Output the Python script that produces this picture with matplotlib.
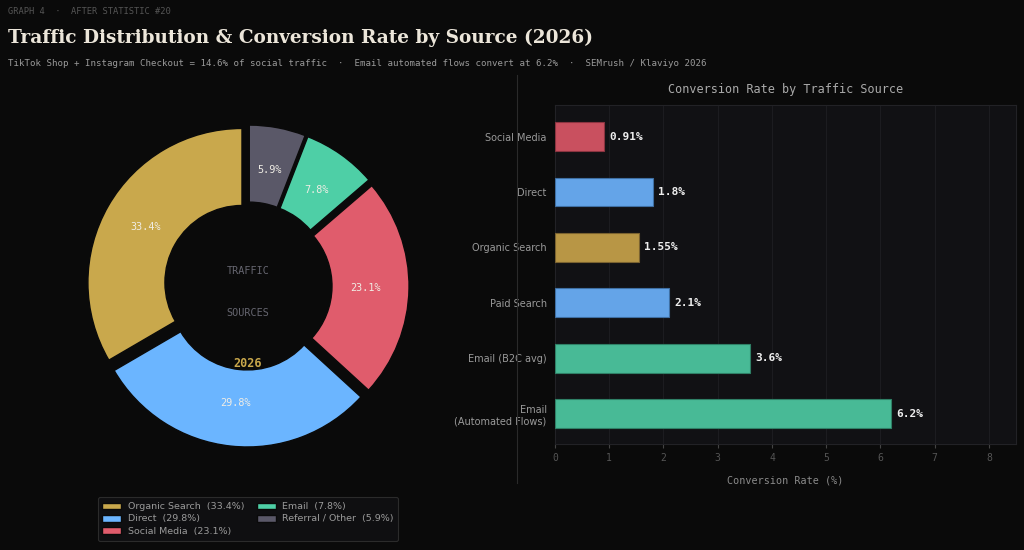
import numpy as np
import matplotlib
matplotlib.use("Agg")
import matplotlib.pyplot as plt

BG = "#0a0a0a"
PANEL = "#111114"
GOLD, BLUE, RED, GREEN, GREY = "#C9A84C", "#6BB5FF", "#E05C6C", "#4ECFA6", "#5A5868"

# donut data
share_labels = ["Organic Search", "Direct", "Social Media", "Email", "Referral / Other"]
share_values = [33.4, 29.8, 23.1, 7.8, 5.9]
share_colors = [GOLD, BLUE, RED, GREEN, GREY]

# conversion bars (top to bottom)
conv_labels = ["Social Media", "Direct", "Organic Search", "Paid Search",
               "Email (B2C avg)", "Email\n(Automated Flows)"]
conv_values = [0.91, 1.8, 1.55, 2.1, 3.6, 6.2]
conv_text = ["0.91%", "1.8%", "1.55%", "2.1%", "3.6%", "6.2%"]
conv_colors = ["#C9505F", "#64A4E8", "#B89645", "#64A4E8", "#48BA96", "#48BA96"]
conv_edges = ["#8a3440", "#3f6fa3", "#7a6230", "#3f6fa3", "#2f8066", "#2f8066"]

MONO = "DejaVu Sans Mono"

fig = plt.figure(figsize=(10.24, 5.5), dpi=100, facecolor=BG)

fig.text(8/1024, 1 - 12/550, "GRAPH 4  ·  AFTER STATISTIC #20", family=MONO,
         fontsize=6.3, color="#555555", va="center")
fig.text(8/1024, 1 - 38/550, "Traffic Distribution & Conversion Rate by Source (2026)",
         family="DejaVu Serif", fontweight="bold", fontsize=13.3, color="#ece6da", va="center")
fig.text(8/1024, 1 - 63/550,
         "TikTok Shop + Instagram Checkout = 14.6% of social traffic  ·  "
         "Email automated flows convert at 6.2%  ·  SEMrush / Klaviyo 2026",
         family=MONO, fontsize=6.6, color="#9a9a9a", va="center")

# separator
fig.add_artist(plt.Line2D([517/1024, 517/1024], [1 - 75/550, 1 - 483/550],
                          color="#2a2a2a", lw=0.8))

# ---- donut ----
S = 339
ax1 = fig.add_axes([(248 - S/2)/1024, (264 - S/2)/550, S/1024, S/550])
ax1.set_facecolor(BG)
wedges, texts, autotexts = ax1.pie(
    share_values, colors=share_colors, startangle=90, counterclock=True,
    explode=[0.045] * len(share_values), autopct="%1.1f%%", pctdistance=0.72,
    wedgeprops=dict(width=0.5, edgecolor=BG, linewidth=1.0),
    textprops=dict(family=MONO, fontsize=7.3, color="#f0ede5"))
ax1.set_xlim(-1.1, 1.1); ax1.set_ylim(-1.1, 1.1)
ax1.set_aspect("equal")
ax1.text(0, 0.095, "TRAFFIC", ha="center", va="center", family=MONO, fontsize=7.3, color="#666670")
ax1.text(0, -0.175, "SOURCES", ha="center", va="center", family=MONO, fontsize=7.3, color="#666670")
ax1.text(0, -0.5, "2026", ha="center", va="center", family=MONO, fontsize=8.5,
         fontweight="bold", color=GOLD)

leg_labels = [f"{l}  ({v}%)" for l, v in zip(share_labels, share_values)]
leg = fig.legend(wedges, leg_labels, loc="center", bbox_to_anchor=(248/1024, 1 - 519/550),
                 ncol=2, fontsize=6.8, frameon=True, facecolor=PANEL, edgecolor="#333333",
                 labelcolor="#9a9a9a", handlelength=2.0, handleheight=0.7,
                 columnspacing=1.3, borderpad=0.5, labelspacing=0.35, handletextpad=0.7)
leg.get_frame().set_linewidth(0.8)

# ---- bars ----
ax2 = fig.add_axes([555/1024, 1 - 444/550, (1016 - 555)/1024, (444 - 105)/550])
ax2.set_facecolor(PANEL)
y = np.arange(len(conv_values))
ax2.barh(y, conv_values, height=0.52, color=conv_colors, edgecolor=conv_edges, linewidth=0.8, zorder=3)
for yi, v, t in zip(y, conv_values, conv_text):
    ax2.text(v + 0.1, yi, t, va="center", ha="left", family=MONO, fontsize=8,
             fontweight="bold", color="#eeeeee", zorder=4)
ax2.set_xlim(0, 8.5)
ax2.set_ylim(5.55, -0.57)
ax2.set_yticks(y)
ax2.set_yticklabels(conv_labels, fontsize=7, color="#9a9a9a")
ax2.set_xticks(range(0, 9))
ax2.tick_params(axis="x", colors="#444444", labelsize=7, labelcolor="#555555", length=3)
ax2.tick_params(axis="y", length=0, pad=6)
for lbl in ax2.get_xticklabels():
    lbl.set_family(MONO)
ax2.grid(axis="x", color="#1c1c20", lw=0.8, zorder=0)
for s in ax2.spines.values():
    s.set_color("#222226")
ax2.set_title("Conversion Rate by Traffic Source", family=MONO, fontsize=8.5,
              color="#aaaaaa", pad=9)
ax2.set_xlabel("Conversion Rate (%)", family=MONO, fontsize=7.3, color="#8a8a8a", labelpad=9)

fig.savefig("out.png", dpi=100, facecolor=BG)
